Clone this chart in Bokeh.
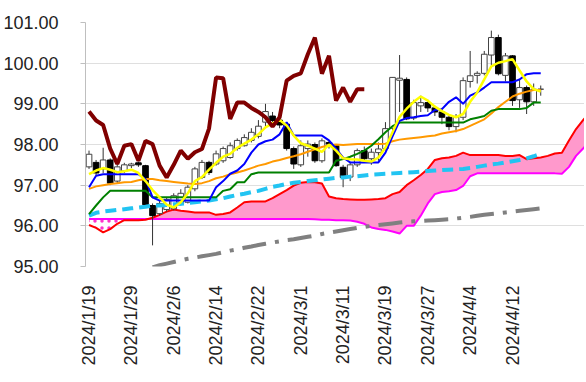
import numpy as np
from bokeh.plotting import figure
from bokeh.models import Range1d, FixedTicker
from bokeh.embed import file_html
from bokeh.resources import INLINE

tick_pos = [0, 6, 12, 18, 24, 30, 36, 42, 48, 54, 60]
tick_labels = ["2024/1/19", "2024/1/29", "2024/2/6", "2024/2/14", "2024/2/22", "2024/3/1",
               "2024/3/11", "2024/3/19", "2024/3/27", "2024/4/4", "2024/4/12"]

open_ = [97.45, 97.56, 97.40, 97.62, 97.10, 97.35, 97.48, 97.55, 97.48, 96.50,
         96.30, 96.40, 96.42, 96.55, 96.58, 96.91, 97.19, 97.56, 97.52, 97.60,
         97.68, 97.90, 97.97, 98.10, 98.20, 98.55, 98.70, 98.60, 98.50, 97.90,
         97.50, 97.90, 98.00, 97.60, 98.05, 97.97, 97.44, 97.20, 97.50, 97.85,
         97.65, 97.80, 97.90, 98.40, 99.58, 99.60, 98.65, 98.95, 99.03, 98.90,
         98.80, 98.67, 98.44, 98.67, 99.55, 99.70, 99.75, 100.20, 100.63, 99.70,
         100.18, 99.10, 99.40, 99.05, 99.36]
high = [97.85, 97.62, 97.92, 97.66, 97.55, 97.55, 97.55, 97.58, 97.50, 96.55,
        96.62, 96.70, 96.80, 96.90, 97.00, 97.45, 97.62, 97.60, 97.85, 97.95,
        98.05, 98.15, 98.25, 98.40, 98.60, 99.00, 98.80, 98.70, 98.55, 97.95,
        98.10, 98.10, 98.05, 98.15, 98.10, 98.00, 97.50, 97.55, 97.90, 97.95,
        97.90, 98.05, 98.55, 99.65, 100.20, 99.65, 99.10, 99.20, 99.10, 98.95,
        98.90, 98.70, 98.75, 99.65, 100.30, 99.80, 100.30, 100.80, 100.70, 100.25,
        100.20, 99.60, 99.45, 99.50, 99.45]
low = [97.40, 97.25, 97.30, 97.00, 97.05, 97.30, 97.42, 97.45, 96.48, 95.52,
       96.25, 96.35, 96.38, 96.50, 96.55, 96.85, 97.15, 97.25, 97.48, 97.55,
       97.65, 97.85, 97.95, 98.05, 98.15, 98.45, 98.55, 98.40, 97.85, 97.40,
       97.45, 97.70, 97.55, 97.55, 97.90, 97.45, 96.95, 97.10, 97.45, 97.55,
       97.50, 97.60, 97.85, 98.35, 98.80, 98.60, 98.60, 98.80, 98.80, 98.70,
       98.50, 98.35, 98.30, 98.60, 99.40, 99.50, 99.70, 99.95, 99.70, 99.55,
       98.95, 98.90, 98.75, 98.95, 99.20]
close = [97.76, 97.30, 97.62, 97.05, 97.45, 97.50, 97.52, 97.50, 96.52, 96.25,
         96.55, 96.65, 96.74, 96.80, 96.95, 97.40, 97.56, 97.31, 97.77, 97.90,
         97.97, 98.10, 98.17, 98.30, 98.45, 98.81, 98.59, 98.48, 97.90, 97.52,
         97.97, 98.01, 97.60, 98.09, 98.01, 97.48, 97.19, 97.50, 97.85, 97.65,
         97.81, 97.89, 98.39, 99.65, 99.63, 98.63, 99.03, 99.03, 98.90, 98.80,
         98.67, 98.44, 98.67, 99.57, 99.69, 99.75, 100.22, 100.63, 99.74, 100.18,
         99.08, 99.40, 99.05, 99.36, 99.36]

chikou = [98.81, 98.59, 98.48, 97.90, 97.52, 97.97, 98.01, 97.60, 98.09, 98.01,
          97.48, 97.19, 97.50, 97.85, 97.65, 97.81, 97.89, 98.39, 99.65, 99.63,
          98.63, 99.03, 99.03, 98.90, 98.80, 98.67, 98.44, 98.67, 99.57, 99.69,
          99.75, 100.22, 100.63, 99.74, 100.18, 99.08, 99.40, 99.05, 99.36, 99.36]

tenkan = [96.95, 97.23, 97.27, 97.27, 97.27, 97.27, 97.27, 97.27, 97.15, 96.70,
          96.62, 96.62, 96.62, 96.62, 96.62, 96.62, 96.62, 96.62, 96.95, 97.10,
          97.28, 97.36, 97.52, 97.80, 98.00, 98.08, 98.12, 98.25, 98.55, 98.22,
          98.22, 98.22, 98.22, 98.22, 98.10, 97.90, 97.68, 97.56, 97.56, 97.56,
          97.56, 97.56, 97.80, 98.20, 98.58, 98.65, 98.67, 98.70, 98.72, 98.85,
          98.87, 99.05, 99.16, 99.00, 99.20, 99.28, 99.40, 99.53, 99.53, 99.53,
          99.53, 99.60, 99.73, 99.75, 99.75]
kijun = [96.29, 96.50, 96.70, 96.86, 96.86, 96.86, 96.86, 96.86, 96.86, 96.70,
         96.70, 96.70, 96.70, 96.70, 96.70, 96.70, 96.70, 96.70, 96.70, 96.86,
         96.90, 97.07, 97.07, 97.27, 97.31, 97.31, 97.31, 97.31, 97.31, 97.31,
         97.31, 97.31, 97.31, 97.31, 97.31, 97.60, 97.64, 97.70, 97.77, 97.85,
         97.97, 98.13, 98.30, 98.45, 98.54, 98.54, 98.54, 98.54, 98.54, 98.54,
         98.54, 98.54, 98.54, 98.54, 98.62, 98.66, 98.70, 98.83, 98.87, 98.87,
         98.87, 98.87, 98.90, 99.03, 99.03]
ma5 = [97.27, 97.36, 97.42, 97.38, 97.32, 97.34, 97.38, 97.30, 97.10, 96.88,
       96.70, 96.52, 96.45, 96.58, 96.80, 97.10, 97.20, 97.38, 97.55, 97.70,
       97.77, 97.92, 98.02, 98.12, 98.25, 98.42, 98.52, 98.60, 98.47, 98.22,
       98.03, 97.97, 97.90, 97.82, 98.00, 97.85, 97.66, 97.64, 97.63, 97.60,
       97.58, 97.68, 97.92, 98.30, 98.68, 98.88, 99.05, 99.18, 99.08, 98.93,
       98.82, 98.73, 98.67, 98.75, 99.05, 99.28, 99.60, 99.92, 100.01, 100.05,
       100.10, 99.82, 99.55, 99.36, 99.30]
ma25 = [96.91, 96.97, 97.00, 97.03, 97.05, 97.07, 97.08, 97.12, 97.15, 97.15,
        97.12, 97.10, 97.08, 97.06, 97.04, 97.03, 97.05, 97.10, 97.17, 97.21,
        97.27, 97.31, 97.36, 97.42, 97.48, 97.52, 97.58, 97.62, 97.67, 97.71,
        97.76, 97.82, 97.88, 97.94, 97.98, 98.00, 97.99, 98.00, 98.01, 98.01,
        98.01, 98.01, 98.02, 98.08, 98.12, 98.14, 98.16, 98.18, 98.20, 98.22,
        98.27, 98.30, 98.33, 98.38, 98.46, 98.54, 98.62, 98.76, 98.92, 99.05,
        99.18, 99.25, 99.30, 99.34, 99.34]
ma75 = [96.25, 96.32, 96.35, 96.37, 96.39, 96.41, 96.43, 96.45, 96.47, 96.50,
        96.50, 96.51, 96.53, 96.54, 96.56, 96.58, 96.60, 96.62, 96.65, 96.68,
        96.72, 96.76, 96.79, 96.83, 96.86, 96.91, 96.96, 96.99, 97.03, 97.06,
        97.08, 97.10, 97.12, 97.14, 97.16, 97.18, 97.19, 97.21, 97.22, 97.24,
        97.26, 97.27, 97.28, 97.29, 97.30, 97.31, 97.32, 97.33, 97.35, 97.36,
        97.37, 97.38, 97.39, 97.40, 97.42, 97.45, 97.48, 97.51, 97.53, 97.56,
        97.59, 97.62, 97.66, 97.71, 97.77]
ma200 = [94.98, 95.03, 95.07, 95.11, 95.15, 95.19, 95.22, 95.25, 95.28, 95.31,
         95.35, 95.39, 95.42, 95.46, 95.49, 95.53, 95.56, 95.59, 95.62, 95.65,
         95.67, 95.70, 95.73, 95.76, 95.80, 95.83, 95.86, 95.89, 95.92, 95.95,
         95.97, 96.00, 96.02, 96.04, 96.06, 96.08, 96.10, 96.11, 96.12, 96.13,
         96.14, 96.15, 96.16, 96.18, 96.20, 96.22, 96.25, 96.27, 96.29, 96.31,
         96.33, 96.35, 96.37, 96.39, 96.41, 96.43]
senkou_a = [96.02, 95.95, 95.84, 95.92, 96.05, 96.14, 96.14, 96.14, 96.15, 96.20,
            96.27, 96.35, 96.40, 96.37, 96.35, 96.33, 96.33, 96.33, 96.27, 96.29,
            96.33, 96.45, 96.58, 96.60, 96.60, 96.60, 96.68, 96.78, 96.88, 96.99,
            97.06, 97.08, 97.07, 97.04, 96.72, 96.68, 96.66, 96.65, 96.64, 96.64,
            96.65, 96.66, 96.68, 96.78, 96.83, 97.00, 97.12, 97.25, 97.40, 97.62,
            97.66, 97.68, 97.72, 97.80, 97.74, 97.74, 97.74, 97.74, 97.74, 97.72,
            97.72, 97.74, 97.64, 97.66, 97.68, 97.72, 97.78, 97.80, 98.10, 98.38,
            98.60, 98.80]
senkou_b = [96.17, 96.17, 96.17, 96.17, 96.17, 96.17, 96.17, 96.17, 96.17, 96.17,
            96.17, 96.17, 96.17, 96.17, 96.17, 96.17, 96.17, 96.17, 96.17, 96.17,
            96.17, 96.17, 96.17, 96.17, 96.17, 96.17, 96.17, 96.17, 96.17, 96.17,
            96.17, 96.17, 96.16, 96.15, 96.15, 96.14, 96.14, 96.13, 96.10, 96.05,
            95.96, 95.92, 95.90, 95.86, 95.81, 96.00, 96.00, 96.25, 96.55, 96.78,
            96.83, 96.85, 96.88, 96.98, 97.22, 97.29, 97.29, 97.29, 97.29, 97.29,
            97.29, 97.29, 97.29, 97.29, 97.29, 97.29, 97.29, 97.28, 97.45, 97.72,
            97.90, 98.10]

xc = np.arange(len(close))
xs = np.arange(len(senkou_a))
x200 = np.arange(9, 9 + len(ma200))
xch = np.arange(len(chikou))

p = figure(width=584, height=374, output_backend="svg", toolbar_location=None,
           x_range=Range1d(-0.5, 70.2), y_range=Range1d(95, 101),
           min_border_left=82, min_border_right=0, min_border_top=22, min_border_bottom=108)
p.outline_line_color = None
p.xgrid.grid_line_color = None
p.ygrid.grid_line_color = "#BFBFBF"
p.ygrid.grid_line_dash = "1 1"
p.ygrid.ticker = FixedTicker(ticks=[95, 96, 97, 98, 99, 100, 101])

p.yaxis.ticker = FixedTicker(ticks=[95, 96, 97, 98, 99, 100, 101])
p.yaxis.major_label_overrides = {v: f"{v:.2f}" for v in [95, 96, 97, 98, 99, 100, 101]}
p.yaxis.axis_line_color = "#BFBFBF"
p.yaxis.major_tick_line_color = "#BFBFBF"
p.yaxis.major_tick_out = 5
p.yaxis.major_tick_in = 0
p.yaxis.minor_tick_line_color = None
p.yaxis.major_label_standoff = 22
p.yaxis.major_label_text_font = "Liberation Sans"
p.yaxis.major_label_text_font_size = "18px"
p.yaxis.major_label_text_color = "#222222"

p.xaxis.ticker = FixedTicker(ticks=tick_pos)
p.xaxis.major_label_overrides = {t: l for t, l in zip(tick_pos, tick_labels)}
p.xaxis.major_label_orientation = np.pi / 2
p.xaxis.axis_line_color = None
p.xaxis.major_tick_line_color = None
p.xaxis.minor_tick_line_color = None
p.xaxis.major_label_standoff = 13
p.xaxis.major_label_text_font = "Liberation Sans"
p.xaxis.major_label_text_font_size = "18px"
p.xaxis.major_label_text_color = "#222222"

sa = np.array(senkou_a)
sb = np.array(senkou_b)
p.varea(x=xs, y1=sb, y2=np.maximum(sa, sb), fill_color="#FF99CC")
p.varea(x=xs, y1=np.minimum(sa, sb), y2=sb, fill_color="white",
        hatch_pattern="dot", hatch_color="#FF33CC", hatch_scale=7, hatch_weight=1.5)
p.line(xs, sb, line_color="#FF00FF", line_width=2)
p.line(xs, sa, line_color="#FF0000", line_width=2)
p.line(x200, ma200, line_color="#808080", line_width=4, line_dash="24 9 4 9")

o = np.array(open_); c = np.array(close)
up = c >= o
p.segment(xc, high, xc, low, line_color="#333333", line_width=1)
p.vbar(x=xc[up], width=0.8, top=c[up], bottom=o[up], fill_color="white", line_color="#444444", line_width=1)
p.vbar(x=xc[~up], width=0.8, top=o[~up], bottom=c[~up], fill_color="black", line_color="black", line_width=1)

p.line(xc, ma75, line_color="#22C4F2", line_width=4, line_dash="11 6")
p.line(xc, ma25, line_color="#FF9900", line_width=2)
p.line(xc, kijun, line_color="#008000", line_width=2)
p.line(xc, tenkan, line_color="#0000FF", line_width=2)
p.line(xc, ma5, line_color="#FFFF00", line_width=2.5)
p.line(xch, chikou, line_color="#800000", line_width=4)

open("out.html", "w").write(file_html(p, INLINE))
